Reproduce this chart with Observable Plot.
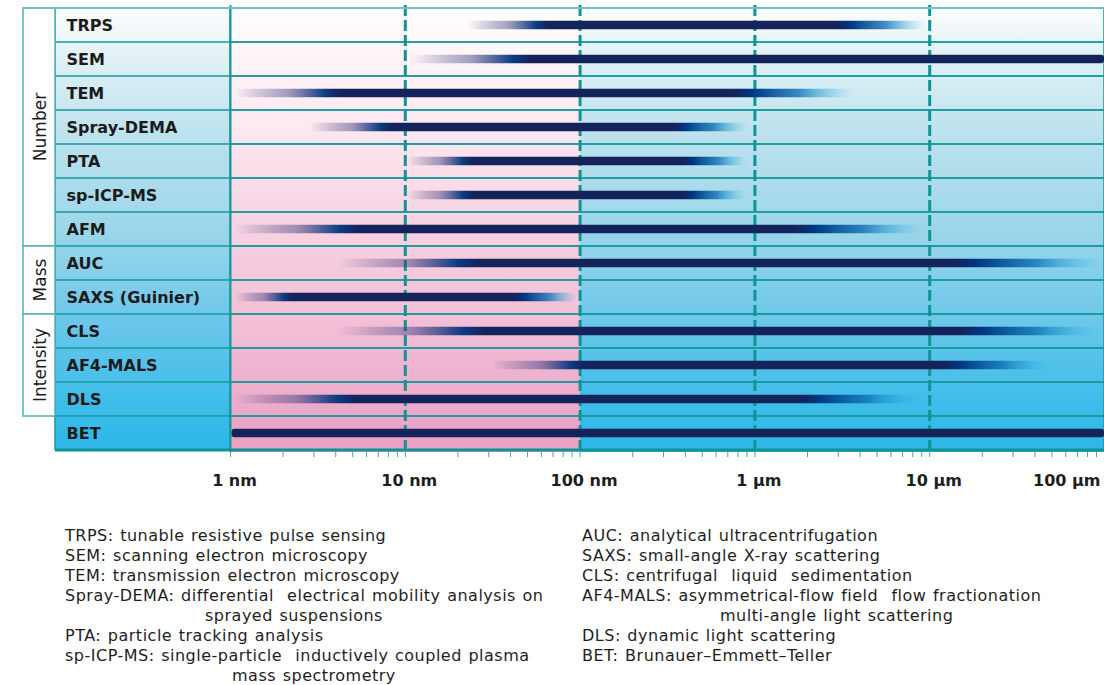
<!DOCTYPE html>
<html>
<head>
<meta charset="utf-8">
<script src="https://cdn.jsdelivr.net/npm/d3@7"></script>
<script src="https://cdn.jsdelivr.net/npm/@observablehq/plot@0.6"></script>
<style>
  body { margin: 0; background: #fff; font-family: "DejaVu Sans", Verdana, sans-serif; }
  #chart svg { display: block; }
  #legend { position: relative; height: 180px; font-size: 16px; line-height: 20px; color: #1e1e1e;
            letter-spacing: 0.5px; word-spacing: 1px; }
  #legend .col { position: absolute; top: 21px; white-space: nowrap; }
</style>
</head>
<body>
<div id="chart"></div>
<div id="legend"></div>
<script>
// ---------- data ----------
const methods = ["TRPS", "SEM", "TEM", "Spray-DEMA", "PTA", "sp-ICP-MS", "AFM",
                 "AUC", "SAXS (Guinier)", "CLS", "AF4-MALS", "DLS", "BET"];
// size ranges (nm): fade-in start, full strength start, full strength end, fade-out end
const fadeStart  = [22.7, 10.7, 1.07, 2.87, 10.4, 10.4, 1.07, 4.15, 1.07, 4.15, 31.6, 1.07, 1.02];
const solidStart = [66,   52,   4.3,  8.45, 24.3, 24.3, 5.4,  26.3, 2.26, 28.8, 107,  5.2,  1.02];
const solidEnd   = [2975, 1e5,  756,  343,  391,  391,  1670, 13700, 42.7, 15000, 12000, 1800, 1e5];
const fadeEnd    = [9490, 1e5,  3675, 909,  909,  885,  9240, 99000, 97,  95200, 51200, 9240, 1e5];

const groupNames = ["Number", "Mass", "Intensity"];
const groupFirst = ["TRPS", "AUC", "CLS"];
const groupLast  = ["AFM", "SAXS (Guinier)", "DLS"];

const majorTicks = [1, 10, 100, 1000, 10000, 100000];
const tickLabels = ["1 nm", "10 nm", "100 nm", "1 µm", "10 µm", "100 µm"];
const dashedAt   = [10, 100, 1000, 10000];

const legendLeft = [
  ["TRPS: tunable resistive pulse sensing", 0],
  ["SEM: scanning electron microscopy", 0],
  ["TEM: transmission electron microscopy", 0],
  ["Spray-DEMA: differential  electrical mobility analysis on", 0],
  ["sprayed suspensions", 140],
  ["PTA: particle tracking analysis", 0],
  ["sp-ICP-MS: single-particle  inductively coupled plasma", 0],
  ["mass spectrometry", 167]
];
const legendRight = [
  ["AUC: analytical ultracentrifugation", 0],
  ["SAXS: small-angle X-ray scattering", 0],
  ["CLS: centrifugal  liquid  sedimentation", 0],
  ["AF4-MALS: asymmetrical-flow field  flow fractionation", 0],
  ["multi-angle light scattering", 138],
  ["DLS: dynamic light scattering", 0],
  ["BET: Brunauer\u2013Emmett\u2013Teller", 0]
];

// ---------- style ----------
const teal = "#17999b";
const navy = "#14235a";
const rows = methods.map((m, i) => ({m, i, fs: fadeStart[i], fe: fadeEnd[i]}));
const minorTicks = d3.scaleLog().domain([1, 1e5]).ticks();
const labelOf = v => tickLabels[majorTicks.indexOf(v)];

const plot = Plot.plot({
  width: 1104, height: 505,
  marginTop: 5, marginBottom: 53, marginLeft: 230, marginRight: 0,
  x: {type: "log", domain: [1, 1e5]},
  y: {domain: methods, padding: 0},
  color: {type: "identity"},
  style: {fontFamily: "DejaVu Sans, Verdana, sans-serif", background: "transparent", overflow: "visible"},
  marks: [
    Plot.barX([0], {x1: 1, x2: 100, fill: "url(#bgPink)"}),
    Plot.barX([0], {x1: 100, x2: 1e5, fill: "url(#bgCyan)"}),
    Plot.barX(methods, {x1: 1, x2: 1e5, y: d => d, fill: "none", stroke: teal, strokeWidth: 1.5}),
    Plot.ruleX(dashedAt, {stroke: "#0f9395", strokeWidth: 3, strokeDasharray: "11,4"}),
    Plot.ruleX([1], {stroke: teal, strokeWidth: 2}),
    Plot.barX(rows, {x1: "fs", x2: "fe", y: "m", insetTop: 12.7, insetBottom: 12.7,
                     fill: d => `url(#bar${d.i})`, rx: 3}),
    Plot.axisX(minorTicks, {tickSize: 5, tickFormat: () => "", stroke: "#3aaab0", label: null}),
    Plot.axisX(majorTicks.slice(0, 5), {tickSize: 0, tickPadding: 22, tickFormat: labelOf, label: null,
                     fontSize: 16, fontWeight: "bold", fill: "#1e1e1e", dx: 4}),
    Plot.axisX(majorTicks.slice(5), {tickSize: 0, tickPadding: 22, tickFormat: labelOf, label: null,
                     fontSize: 16, fontWeight: "bold", fill: "#1e1e1e", textAnchor: "end", dx: -4}),
    Plot.axisY({tickSize: 0, tickPadding: 164, textAnchor: "start", fontSize: 16, label: null,
                fontWeight: "bold", fill: "#1b1b1b"})
  ]
});
document.getElementById("chart").appendChild(plot);

// ---------- gradients & label columns ----------
const svg = d3.select(plot);
const xs = plot.scale("x");
const ys = plot.scale("y");
const bw = ys.bandwidth;
const topY = ys.apply(methods[0]);
const botY = ys.apply(methods[methods.length - 1]) + bw;
const x = v => xs.apply(v);

const defs = svg.insert("defs", ":first-child");
function vgrad(id, stops) {
  const g = defs.append("linearGradient").attr("id", id)
    .attr("x1", 0).attr("y1", 0).attr("x2", 0).attr("y2", 1);
  stops.forEach(([o, c]) => g.append("stop").attr("offset", o).attr("stop-color", c));
}
vgrad("bgPink", [[0, "#fffefe"], [0.25, "#fdeaf1"], [0.5, "#f7d2e2"], [0.75, "#f1bbd4"], [1, "#e89fc2"]]);
vgrad("bgCyan", [[0, "#fefefe"], [0.1, "#e4f2f6"], [0.27, "#c0e3ee"], [0.5, "#9cd6ea"],
                 [0.66, "#77caea"], [0.88, "#40bde9"], [1, "#2db7e7"]]);

methods.forEach((m, i) => {
  const a = x(fadeStart[i]), b = x(solidStart[i]), c = x(solidEnd[i]), d = x(fadeEnd[i]);
  const w = Math.max(1, d - a);
  const g = defs.append("linearGradient").attr("id", `bar${i}`)
    .attr("gradientUnits", "userSpaceOnUse").attr("x1", a).attr("x2", d).attr("y1", 0).attr("y2", 0);
  const stop = (px, col, op) => g.append("stop")
    .attr("offset", Math.max(0, Math.min(1, (px - a) / w)))
    .attr("stop-color", col).attr("stop-opacity", op);
  if (b - a > 1) {
    stop(a, navy, 0);
    stop(a + (b - a) * 0.5, "#34397e", 0.45);
    stop(a + (b - a) * 0.85, "#00347e", 0.95);
  }
  stop(b, navy, 1);
  stop(c, navy, 1);
  if (d - c > 1) {
    stop(c + (d - c) * 0.15, "#00357f", 1);
    stop(c + (d - c) * 0.55, "#0a70b2", 0.78);
    stop(d, "#35c0ec", 0);
  }
});

const left = svg.insert("g", "defs + *");
const colL = 55, grpL = 23, colR = 230;
left.append("rect").attr("x", colL).attr("y", topY).attr("width", colR - colL)
  .attr("height", botY - topY).attr("fill", "url(#bgCyan)");
methods.forEach(m => {
  left.append("line").attr("x1", colL - 2).attr("x2", colR).attr("y1", ys.apply(m)).attr("y2", ys.apply(m))
    .attr("stroke", teal).attr("stroke-width", 1.5);
});
left.append("line").attr("x1", colL).attr("x2", colL).attr("y1", topY).attr("y2", botY)
  .attr("stroke", teal).attr("stroke-width", 1.5);
groupNames.forEach((name, k) => {
  const y0 = ys.apply(groupFirst[k]), y1 = ys.apply(groupLast[k]) + bw;
  left.append("rect").attr("x", grpL).attr("y", y0).attr("width", colL - grpL).attr("height", y1 - y0)
    .attr("fill", "#fff").attr("stroke", "#4fb2b3").attr("stroke-width", 1.5);
  left.append("text").attr("transform", `translate(${(grpL + colL) / 2 + 1},${(y0 + y1) / 2}) rotate(-90)`)
    .attr("text-anchor", "middle").attr("dominant-baseline", "central")
    .attr("font-size", 17).attr("fill", "#1b1b1b").text(name);
});
// outer top and bottom lines (drawn on top)
svg.append("line").attr("x1", grpL).attr("x2", 1104).attr("y1", topY).attr("y2", topY)
  .attr("stroke", "#6fc0c2").attr("stroke-width", 2);
svg.append("line").attr("x1", colL).attr("x2", 1104).attr("y1", botY).attr("y2", botY)
  .attr("stroke", "#0f9395").attr("stroke-width", 3);

// ---------- legend ----------
const leg = d3.select("#legend");
[[legendLeft, 65], [legendRight, 582]].forEach(([lines, lx]) => {
  const col = leg.append("div").attr("class", "col").style("left", lx + "px");
  lines.forEach(([t, ind]) => col.append("div").style("padding-left", ind + "px")
    .style("white-space", "pre").text(t));
});
</script>
</body>
</html>
